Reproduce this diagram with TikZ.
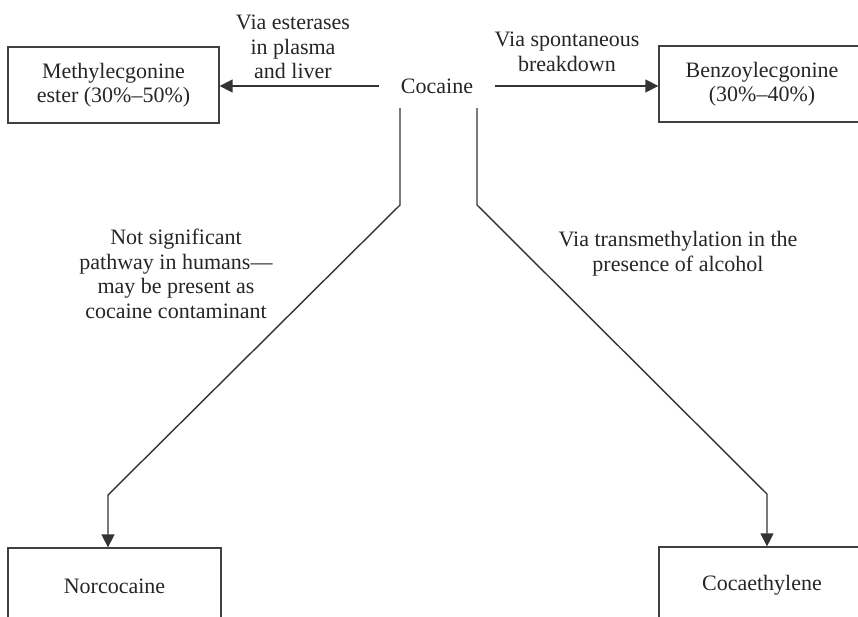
\documentclass[tikz,border=0pt]{standalone}
\usepackage{fontspec}
\setmainfont{Liberation Serif}
\usetikzlibrary{arrows.meta}
\begin{document}
\begin{tikzpicture}[x=1pt,y=-1pt,
  every node/.style={font=\fontsize{22}{24.5}\selectfont, text=black!85},
  box/.style={draw=black!75, line width=1.3pt, align=center, minimum height=76pt, inner sep=0pt},
  lbl/.style={align=center, inner sep=0pt},
  conn/.style={draw=black!80, line width=1.4pt},
  arr/.style={conn, -{Triangle[length=13pt,width=13pt]}}]
\useasboundingbox (0,0) rectangle (858,616);
\clip (0,0) rectangle (858,616);
\fill[white] (0,0) rectangle (858,616);
\node[box, minimum width=211pt] (meth) at (113.5,85) {Methylecgonine\\ester (30\%–50\%)};
\node[box, minimum width=206pt] (benz) at (762,84) {Benzoylecgonine\\(30\%–40\%)};
\node[box, minimum width=213pt] (nor) at (114.5,586) {Norcocaine};
\node[box, minimum width=206pt] (coca) at (762,585) {Cocaethylene};
\node[inner xsep=22pt, inner ysep=0pt] (coc) at (437,86) {Cocaine};
\node[lbl] (l1) at (293,47) {Via esterases\\in plasma\\and liver};
\node[lbl] (l2) at (567,52) {Via spontaneous\\breakdown};
\node[lbl] (l3) at (176,274) {Not significant\\pathway in humans—\\may be present as\\cocaine contaminant};
\node[lbl] (l4) at (678,253.5) {Via transmethylation in the\\presence of alcohol};
\coordinate (a1) at (400,108);
\coordinate (a2) at (400,205);
\coordinate (a3) at (108,495);
\coordinate (b1) at (477,108);
\coordinate (b2) at (477,205);
\coordinate (b3) at (767,494);
\draw[arr] (coc.west) -- (coc.west -| meth.east);
\draw[arr] (coc.east) -- (coc.east -| benz.west);
\draw[arr] (a1) -- (a2) -- (a3) -- (a3 |- nor.north);
\draw[arr] (b1) -- (b2) -- (b3) -- (b3 |- coca.north);
\end{tikzpicture}
\end{document}
